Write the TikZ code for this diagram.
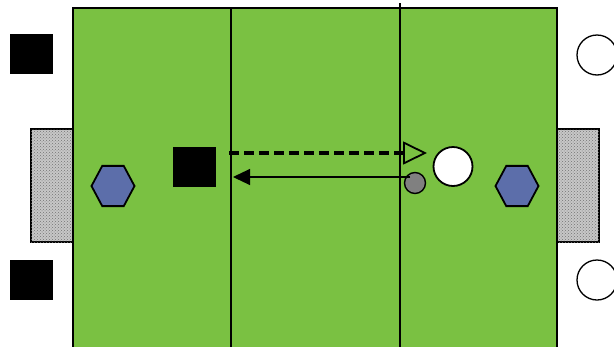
\documentclass[tikz,border=0pt]{standalone}
\usetikzlibrary{arrows.meta,patterns,shapes.geometric}
\definecolor{pitch}{RGB}{122,193,66}
\definecolor{hexblue}{RGB}{92,110,170}
\definecolor{ballgray}{RGB}{128,128,128}
\begin{document}
\begin{tikzpicture}[x=1pt,y=-1pt,
  player/.style={draw=black,fill=black,minimum width=42pt,minimum height=39pt,inner sep=0pt},
  opp/.style={draw=black,line width=1.3pt,circle,fill=white,minimum size=40pt,inner sep=0pt},
  hexa/.style={draw=black,line width=1.8pt,fill=hexblue,regular polygon,regular polygon sides=6,minimum size=43pt,inner sep=0pt,yscale=1.08},
  goalbox/.style={draw=black,line width=1.8pt,fill=black!22,postaction={pattern=crosshatch dots,pattern color=black!55}},
  ball/.style={draw=black,line width=1.4pt,circle,fill=ballgray,minimum size=21pt,inner sep=0pt}]
\useasboundingbox (0,0) rectangle (614,346);
\clip (0,0) rectangle (614,346);
% goals
\draw[goalbox] (31,129) rectangle (73,242);
\draw[goalbox] (557,129) rectangle (599,242);
% pitch
\fill[pitch] (73,8) rectangle (557,350);
\draw[line width=2pt] (73,350) -- (73,8) -- (557,8) -- (557,350);
\draw[line width=1.8pt] (231,8) -- (231,350);
\draw[line width=1.8pt] (400,3) -- (400,350);
% outside players
\node[player] (p1) at (31.5,54) {};
\node[player] (p2) at (31.5,279.5) {};
\node[opp] (o1) at (597,55) {};
\node[opp] (o2) at (597,280) {};
% keepers
\node[hexa] (h1) at (113,186) {};
\node[hexa] (h2) at (517,186) {};
% center players
\node[player] (p3) at (194,166.5) {};
\node[opp,minimum size=39pt,line width=1.8pt] (o3) at (453,166.5) {};
\node[ball] (b) at (415,183) {};
% arrows
\coordinate (ds) at (229,153);
\coordinate (de) at (427,153);
\draw[line width=3.6pt,dash pattern=on 10pt off 5pt,-{Triangle[open,length=24pt,width=23pt,line width=1.8pt]}] (ds) -- (de);
\coordinate (ss) at (410,177);
\coordinate (se) at (233,177);
\draw[line width=1.1pt,-{Triangle[length=17pt,width=16pt]}] (ss) -- (se);
\end{tikzpicture}
\end{document}
